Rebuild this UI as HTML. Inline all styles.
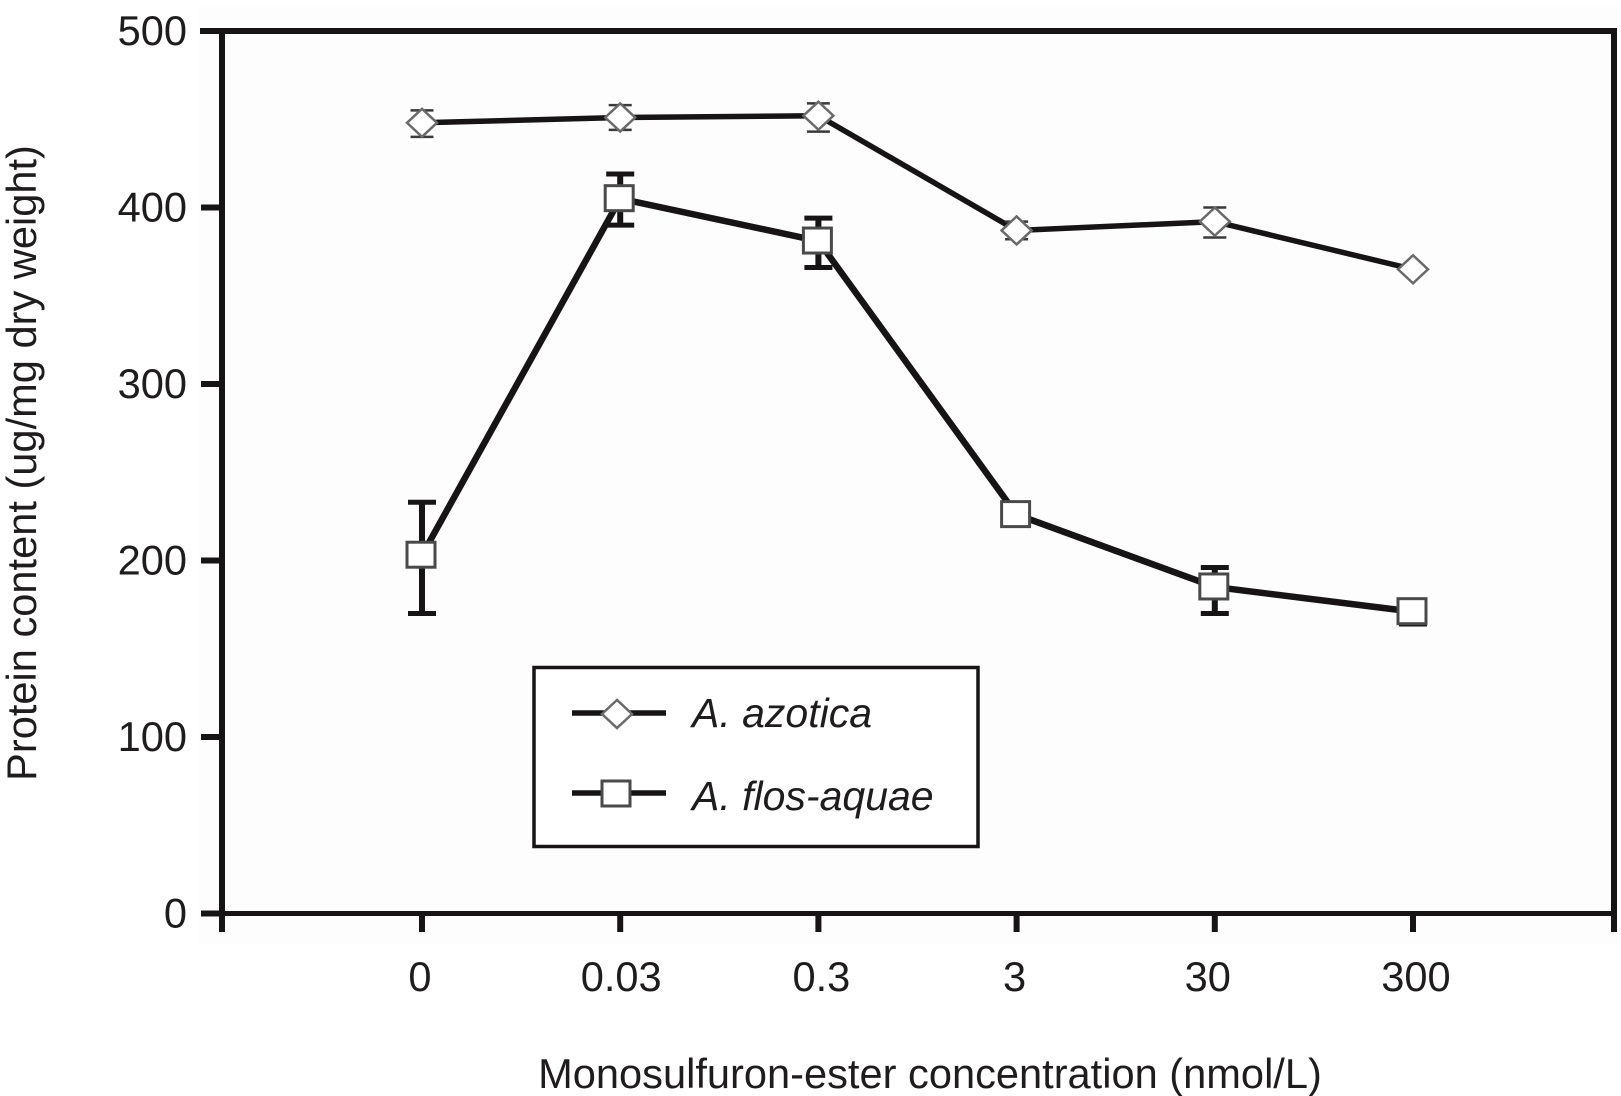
<!DOCTYPE html>
<html lang="en">
<head>
<meta charset="utf-8">
<title>Protein content chart</title>
<style>
html,body{margin:0;padding:0;background:#fff;}
svg{display:block;}
text{font-family:"Liberation Sans",Arial,sans-serif;fill:#1f1c1d;font-size:41.6px;}
</style>
</head>
<body>
<svg id="chart" xmlns="http://www.w3.org/2000/svg" width="1621" height="1096" viewBox="0 0 1621 1096"></svg>
<script>
const categories = ['0', '0.03', '0.3', '3', '30', '300'];
const yTicks = [0, 100, 200, 300, 400, 500];
const azoValues = [448, 451, 452, 387, 392, 365];
const azoHigh = [455, 458, 459, 392, 400, 367];
const azoLow = [440, 444, 443, 382, 383, 363];
const floValues = [203, 405, 381, 226, 185, 171];
const floHigh = [233, 419, 394, 229, 196, 173];
const floLow = [170, 390, 366, 224, 170, 164];

const svg = document.getElementById('chart');
const NS = 'http://www.w3.org/2000/svg';
const xFirst = 422, xStep = 198.2;
const yZero = 913.5, yPerUnit = 1.765;
const xScale = i => xFirst + xStep * i;
const yScale = v => yZero - yPerUnit * v;
const INK = '#161415';

function mk(tag, attrs) {
  const el = document.createElementNS(NS, tag);
  for (const k in attrs) el.setAttribute(k, attrs[k]);
  svg.appendChild(el);
  return el;
}
function line(x1, y1, x2, y2, color, w) {
  return mk('line', {x1, y1, x2, y2, stroke: color, 'stroke-width': w});
}
function label(str, x, y, anchor, style) {
  const t = mk('text', {x, y, 'text-anchor': anchor});
  if (style) t.setAttribute('style', style);
  t.textContent = str;
  return t;
}
function diamond(cx, cy) {
  const p = [[cx - 15, cy], [cx, cy - 14], [cx + 15, cy], [cx, cy + 14]].map(a => a.join(',')).join(' ');
  return mk('polygon', {points: p, fill: '#fff', stroke: '#6a6a6a', 'stroke-width': 2.5});
}
function square(cx, cy) {
  return mk('rect', {x: cx - 15, y: cy - 13, width: 28, height: 25, fill: '#fff', stroke: '#4a4a4a', 'stroke-width': 3});
}

/* faint paper tone of the plot region */
const paper = mk('rect', {x: 198, y: 6, width: 1423, height: 938, fill: '#fdfdfd'});



/* frame */
const topBorder = line(200, 31, 1617, 31, INK, 6);


const leftAxis = line(222, 28, 222, 932, INK, 6);


const rightBorder = line(1614, 28, 1614, 932, INK, 6);


const bottomAxis = line(201, yZero, 1614, yZero, INK, 5);



/* y axis ticks */
yTicks.forEach(v => {
  const tick = line(201, yScale(v), 222, yScale(v), INK, 6);
  
  
  const t = label(String(v), 187, yScale(v) + 14, 'end');
  
  
});

/* x axis ticks */
const xLabelNudge = [-2, 1, 3, -2, -7, 3];
categories.forEach((c, i) => {
  const tick = line(xScale(i), yZero, xScale(i), 932, INK, 6);
  
  
  const t = label(c, xScale(i) + xLabelNudge[i], 991, 'middle');
  
  
});

/* axis titles */
const xTitle = label('Monosulfuron-ester concentration (nmol/L)', 930, 1088, 'middle');


const yTitle = label('Protein content (ug/mg dry weight)', 0, 0, 'middle');
yTitle.setAttribute('transform', 'translate(36 463) rotate(-90)');



/* series lines */
const azoLine = mk('polyline', {
  points: azoValues.map((v, i) => xScale(i) + ',' + yScale(v)).join(' '),
  fill: 'none', stroke: INK, 'stroke-width': 5.5
});


const floLine = mk('polyline', {
  points: floValues.map((v, i) => xScale(i) + ',' + yScale(v)).join(' '),
  fill: 'none', stroke: INK, 'stroke-width': 6.5
});



/* error bars */
azoValues.forEach((v, i) => {
  const x = xScale(i);
  const stem = line(x, yScale(azoHigh[i]), x, yScale(azoLow[i]), '#3a3a3a', 2.5);
  
  
  const capHi = line(x - 11.5, yScale(azoHigh[i]), x + 11.5, yScale(azoHigh[i]), '#3a3a3a', 2.5);
  
  
  const capLo = line(x - 11.5, yScale(azoLow[i]), x + 11.5, yScale(azoLow[i]), '#3a3a3a', 2.5);
  
  
});
floValues.forEach((v, i) => {
  const x = xScale(i);
  const stem = line(x, yScale(floHigh[i]), x, yScale(floLow[i]), INK, 6);
  
  
  const capHi = line(x - 14, yScale(floHigh[i]), x + 14, yScale(floHigh[i]), INK, 5);
  
  
  const capLo = line(x - 14, yScale(floLow[i]), x + 14, yScale(floLow[i]), INK, 5);
  
  
});

/* markers */
azoValues.forEach((v, i) => {
  const m = diamond(xScale(i), yScale(v));
  
  
});
floValues.forEach((v, i) => {
  const m = square(xScale(i), yScale(v));
  
  
});

/* legend */
const legendBox = mk('rect', {x: 534, y: 667.5, width: 444, height: 179, fill: '#fff', stroke: INK, 'stroke-width': 3.5});


const legLine1 = line(572, 713, 666, 713, INK, 5.5);


const legMark1 = diamond(617, 714);


const legText1 = label('A. azotica', 692, 727, 'start', 'font-style:italic;font-size:41px');


const legLine2 = line(572, 793, 666, 793, INK, 5.5);


const legMark2 = square(617, 794);


const legText2 = label('A. flos-aquae', 692, 810, 'start', 'font-style:italic;font-size:41px');


</script>
</body>
</html>
